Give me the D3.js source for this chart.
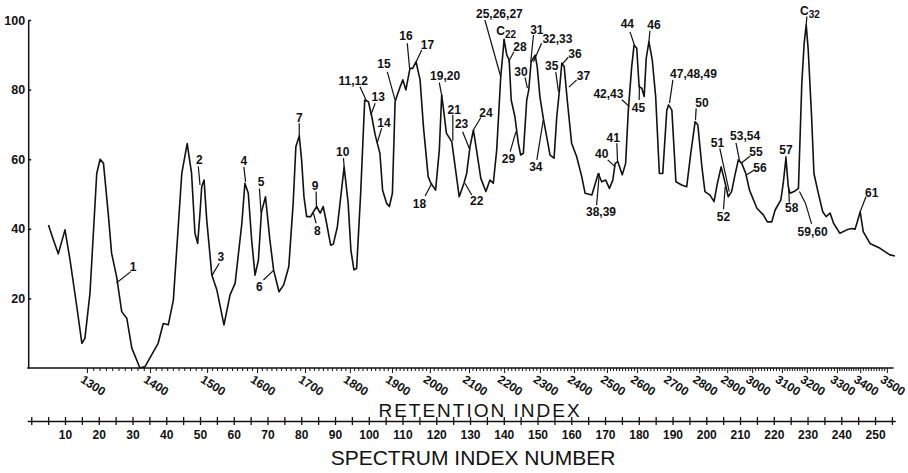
<!DOCTYPE html>
<html>
<head>
<meta charset="utf-8">
<script src="https://cdn.jsdelivr.net/npm/d3@7"></script>
<style>
body { margin: 0; background: #fff; }
text { font-family: "Liberation Sans", Arial, sans-serif; fill: #111; }
</style>
</head>
<body>
<svg id="chart" width="908" height="473"></svg>
<script>
// curve: spectrum index number -> relative intensity
const spectrumIdx = [5.1,6.5,8.0,10.0,11.5,13.5,15.0,15.9,17.4,19.4,
  20.4,21.4,22.8,23.8,25.3,26.8,28.3,29.8,32.2,33.7,
  37.6,39.1,40.6,42.1,44.6,46.2,47.5,48.5,49.3,50.0,
  50.5,51.2,52.0,53.5,55.0,57.1,58.9,60.4,62.4,63.3,
  64.3,65.3,66.3,67.3,68.2,69.4,70.7,71.8,73.4,74.8,
  76.3,77.6,78.4,79.4,80.1,80.8,81.6,82.8,83.6,84.6,
  85.6,86.5,87.5,88.7,89.5,90.7,92.7,93.9,94.7,95.6,
  96.4,97.6,98.8,99.9,100.9,101.9,102.5,103.3,104.1,105.3,
  106.1,107.0,107.8,108.3,109.3,110.1,111.0,112.2,113.0,114.0,
  115.2,116.2,117.6,118.4,119.8,120.9,121.6,122.1,123.0,124.6,
  125.6,126.8,128.2,129.0,130.0,131.0,132.0,133.2,134.7,135.9,
  136.9,137.9,139.1,140.1,140.9,141.6,142.2,143.3,144.3,145.0,
  145.8,146.8,147.4,148.1,149.3,149.9,150.7,151.7,152.9,153.7,
  154.9,155.7,156.4,157.2,157.9,158.8,160.1,161.6,163.1,164.1,
  166.1,168.0,169.0,170.2,171.3,172.3,173.0,173.8,175.1,176.1,
  176.9,177.9,178.6,179.4,180.1,180.9,181.6,182.2,183.0,184.0,
  185.0,186.1,187.1,188.3,188.8,189.8,191.0,192.7,194.2,195.4,
  196.7,197.5,198.7,199.6,201.1,202.3,203.3,204.4,205.6,206.5,
  207.5,208.5,209.5,210.5,211.7,212.8,215.0,216.9,218.1,219.4,
  220.4,222.1,222.8,223.6,224.3,224.8,226.0,227.3,228.3,229.0,
  229.6,230.2,231.2,231.9,233.2,234.5,235.5,236.7,237.7,239.6,
  241.6,243.1,244.1,245.6,246.5,248.5,251.5,254.4,255.9];

const intensity = [41.1,37.0,32.8,39.7,31.0,17.6,7.1,8.5,21.5,55.9,
  60.0,58.8,44.5,33.0,26.2,16.2,14.3,5.7,0.0,0.4,
  7.1,12.8,12.4,19.5,55.9,64.5,55.9,38.7,35.8,44.5,
  52.1,54.0,42.5,26.7,22.4,12.4,21.0,24.3,41.6,53.1,
  50.2,36.8,26.7,31.0,44.8,49.2,36.8,28.2,21.9,23.9,
  29.1,47.3,63.6,66.7,59.8,49.2,43.5,43.5,44.9,46.4,
  44.5,46.4,41.6,35.3,35.6,40.6,57.8,47.3,33.9,28.2,
  28.6,50.2,77.0,76.5,72.2,67.0,64.7,61.7,51.1,47.3,
  46.4,50.2,76.5,78.0,80.8,82.8,79.9,86.1,86.1,88.0,
  82.8,69.3,55.0,53.1,51.1,62.6,78.4,74.7,67.5,65.0,
  57.8,49.2,53.1,55.9,63.6,68.4,62.2,54.5,50.7,54.0,
  53.1,62.6,83.7,94.3,89.9,88.5,77.0,72.2,64.6,61.2,
  61.7,77.0,79.9,88.0,89.9,86.6,78.0,71.8,65.5,61.2,
  60.3,72.2,78.9,87.6,86.6,77.0,64.6,60.7,55.0,50.2,
  49.7,55.9,53.5,54.0,51.6,54.0,58.8,59.3,55.5,58.8,
  74.1,86.6,92.8,91.9,80.8,80.4,78.0,89.0,93.8,88.5,
  78.0,55.9,55.9,74.1,75.6,74.1,53.5,52.6,52.1,61.7,
  70.8,69.8,57.8,50.7,49.7,47.8,53.1,57.8,53.1,49.2,
  50.7,55.5,59.8,58.8,55.9,51.1,45.9,44.0,42.0,42.0,
  45.4,48.3,53.1,60.3,52.1,50.2,50.7,51.6,81.8,93.3,
  98.6,91.4,72.2,55.9,50.2,44.9,43.5,44.5,41.6,38.7,
  39.7,40.1,39.9,44.9,39.2,35.8,34.4,32.5,32.2];

// retention index hundreds and the spectrum index where each falls
const retentionTicks = [1300,1400,1500,1600,1700,1800,1900,2000,2100,2200,2300,2400,
  2500,2600,2700,2800,2900,3000,3100,3200,3300,3400,3500];
const retentionAtSpectrum = [16.5,35.2,52.1,66.9,81.1,94.4,106.9,118.1,129.7,140.1,150.7,160.8,
  170.6,179.5,189.3,197.9,206.2,213.6,222.4,229.8,238.7,245.6,253.5];

const yTicks = [20,40,60,80,100];
const spectrumTicks = d3.range(0, 256, 5);

// peak labels: [text, label s, label v, leader points [s,v]...]
const peakLabels = [
  ["1", 30.2, 29.0, [[25.3,24.5],[29.5,27.7]]],
  ["2", 49.8, 59.8, [[49.5,57.9],[50.0,52.6]]],
  ["3", 56.2, 31.9, [[55.7,30.1],[53.6,26.7]]],
  ["4", 63.0, 59.6, [[63.0,57.8],[63.5,53.5]]],
  ["5", 68.1, 53.5, [[67.6,51.6],[68.1,44.5]]],
  ["6", 67.6, 23.2, [[68.8,25.3],[71.7,28.0]]],
  ["7", 79.4, 72.0, [[79.4,70.3],[79.4,66.7]]],
  ["8", 84.8, 39.5, [[84.4,41.6],[83.6,44.5]]],
  ["9", 84.1, 52.4, [[84.4,50.7],[84.5,46.3]]],
  ["10", 92.3, 62.2, [[92.5,60.3],[92.7,57.8]]],
  ["11,12", 95.4, 82.5, [[97.4,80.8],[99.2,77.0]]],
  ["13", 102.8, 77.8, [[101.9,76.1],[100.6,72.7]]],
  ["14", 104.5, 70.6, [[103.8,68.9],[102.5,64.7]]],
  ["15", 104.5, 87.3, [[105.5,85.1],[107.8,77.0]]],
  ["16", 111.0, 95.4, [[111.4,93.3],[112.1,86.1]]],
  ["17", 117.4, 92.8, [[115.7,91.4],[113.9,87.7]]],
  ["18", 115.0, 47.3, [[116.7,49.4],[118.7,53.1]]],
  ["19,20", 122.6, 83.9, [[120.9,82.0],[121.7,77.9]]],
  ["21", 125.3, 74.3, [[124.9,72.7],[124.9,65.3]]],
  ["22", 132.0, 48.0, [[130.5,49.7],[128.5,53.1]]],
  ["23", 127.5, 70.3, [[127.8,67.9],[129.8,63.1]]],
  ["24", 134.7, 73.2, [[133.2,72.0],[131.0,68.4]]],
  ["25,26,27", 138.7, 101.7, [[134.4,100.0],[139.1,83.7]]],
  ["C22", 140.7, 96.8, [[140.1,94.7],[140.1,93.8]]],
  ["28", 144.8, 92.2, [[143.0,90.9],[141.4,88.0]]],
  ["29", 141.4, 60.1, [[141.9,62.2],[143.6,67.9]]],
  ["30", 145.1, 85.1, [[146.3,83.5],[147.0,80.4]]],
  ["31", 149.8, 97.3, [[148.8,95.7],[148.0,88.0]]],
  ["32,33", 155.9, 94.7, [[151.2,93.3],[148.8,88.0]]],
  ["34", 149.5, 57.8, [[149.8,59.8],[151.7,71.3]]],
  ["35", 154.2, 86.8, [[155.4,85.1],[156.2,79.4]]],
  ["36", 161.1, 90.4, [[159.1,89.3],[157.4,87.4]]],
  ["37", 163.6, 83.9, [[161.6,82.8],[159.3,80.7]]],
  ["38,39", 168.8, 44.9, [[167.5,46.8],[168.3,55.9]]],
  ["40", 169.0, 61.5, [[170.8,59.8],[173.0,57.8]]],
  ["41", 172.4, 66.2, [[173.5,64.6],[173.7,59.3]]],
  ["42,43", 171.0, 78.9, [[175.0,77.1],[177.2,75.1]]],
  ["44", 176.6, 98.9, [[177.4,96.6],[178.7,92.8]]],
  ["45", 179.9, 74.9, [[180.1,77.0],[180.2,81.3]]],
  ["46", 184.5, 98.6, [[183.3,96.9],[183.0,93.8]]],
  ["47,48,49", 196.2, 84.5, [[190.1,82.8],[189.1,76.1]]],
  ["50", 198.7, 76.1, [[197.0,74.6],[196.8,71.3]]],
  ["51", 203.3, 64.7, [[204.0,63.1],[206.8,50.7]]],
  ["52", 205.1, 43.5, [[205.1,45.6],[205.6,52.1]]],
  ["53,54", 211.5, 66.8, [[208.8,64.7],[209.8,59.8]]],
  ["55", 214.7, 62.2, [[213.0,60.9],[210.5,59.0]]],
  ["56", 215.9, 57.6, [[214.2,56.9],[212.0,55.5]]],
  ["57", 223.6, 62.6, [[223.6,60.9],[223.6,60.3]]],
  ["58", 225.3, 45.9, [[224.6,47.5],[224.4,51.6]]],
  ["59,60", 231.5, 39.2, [[231.2,41.4],[229.4,47.3],[227.6,50.7]]],
  ["C32", 230.7, 102.7, [[229.8,101.0],[229.6,98.6]]],
  ["61", 249.0, 50.4, [[247.3,49.2],[245.6,44.9]]]
];

const svg = d3.select("#chart");

const x = d3.scaleLinear().domain([-1.2, 256]).range([27.2, 895.3]);
const y = d3.scaleLinear().domain([0, 100]).range([368, 20]);
const rx = d3.scaleLinear().domain(retentionTicks).range(retentionAtSpectrum.map(x));

// y axis
const yAxis = svg.append("g")
  .attr("transform", "translate(" + (x.range()[0] + 1) + ",0)")
  .call(d3.axisLeft(y).tickValues(yTicks).tickSizeInner(-3).tickSizeOuter(0).tickPadding(3));
yAxis.selectAll("text").style("font-size", "12.5px").style("font-weight", "bold").attr("fill", "#111");
yAxis.selectAll("line, path").attr("stroke", "#111").attr("stroke-width", 1.5);

// retention index axis (non linear)
svg.append("line")
  .attr("x1", x.range()[0]).attr("x2", x(255.5))
  .attr("y1", y(0)).attr("y2", y(0))
  .attr("stroke", "#111").attr("stroke-width", 1.6);

const rAxis = svg.append("g")
  .attr("transform", "translate(0," + y(0) + ")")
  .call(d3.axisBottom(rx).tickValues(d3.range(1300, 3501, 10)).tickSizeInner(3).tickSizeOuter(0).tickFormat(""));
rAxis.select(".domain").remove();
rAxis.selectAll(".tick line").attr("stroke", "#111").attr("stroke-width", 1)
  .attr("y2", d => d % 100 === 0 ? 5 : 3);

svg.append("g").selectAll("text")
  .data(retentionTicks)
  .join("text")
  .attr("transform", d => "translate(" + (rx(d) - 5) + "," + (y(0) + 10) + ") rotate(33)")
  .attr("dy", "0.35em")
  .style("font-size", "12px")
  .style("font-weight", "bold")
  .text(d => d);

svg.append("text")
  .attr("x", 480).attr("y", 417)
  .attr("text-anchor", "middle")
  .style("font-size", "19px")
  .style("letter-spacing", "2px")
  .text("RETENTION  INDEX");

// spectrum index axis
const sAxis = svg.append("g")
  .attr("transform", "translate(0,421)")
  .call(d3.axisBottom(x).tickValues(spectrumTicks).tickSizeInner(4).tickSizeOuter(0).tickPadding(5)
    .tickFormat(d => (d % 10 === 0 && d > 0) ? d : ""));
sAxis.selectAll(".tick line").attr("y1", -4).attr("stroke", "#111").attr("stroke-width", 1.3);
sAxis.select(".domain").attr("stroke", "#111").attr("stroke-width", 1.5);
sAxis.selectAll("text").style("font-size", "12px").style("font-weight", "bold").attr("fill", "#111");

svg.append("text")
  .attr("x", 473).attr("y", 465)
  .attr("text-anchor", "middle")
  .style("font-size", "21px")
  .text("SPECTRUM INDEX NUMBER");

// the curve
const pts = spectrumIdx.map((s, i) => [s, intensity[i]]);
svg.append("path")
  .datum(pts)
  .attr("fill", "none")
  .attr("stroke", "#111")
  .attr("stroke-width", 1.6)
  .attr("stroke-linejoin", "round")
  .attr("d", d3.line().x(d => x(d[0])).y(d => y(d[1])));

// peak labels and leaders
const leader = d3.line().x(d => x(d[0])).y(d => y(d[1]));
const lab = svg.append("g");
peakLabels.forEach(p => {
  lab.append("path")
    .attr("d", leader(p[3]))
    .attr("fill", "none")
    .attr("stroke", "#111")
    .attr("stroke-width", 1.2);
  const t = lab.append("text")
    .attr("x", x(p[1])).attr("y", y(p[2]))
    .attr("dy", "0.35em")
    .attr("text-anchor", "middle")
    .style("font-size", "12px")
    .style("font-weight", "bold");
  if (p[0][0] === "C") {
    t.append("tspan").text("C");
    t.append("tspan").attr("dy", "3").style("font-size", "10px").text(p[0].slice(1));
  } else {
    t.text(p[0]);
  }
});
</script>
</body>
</html>
